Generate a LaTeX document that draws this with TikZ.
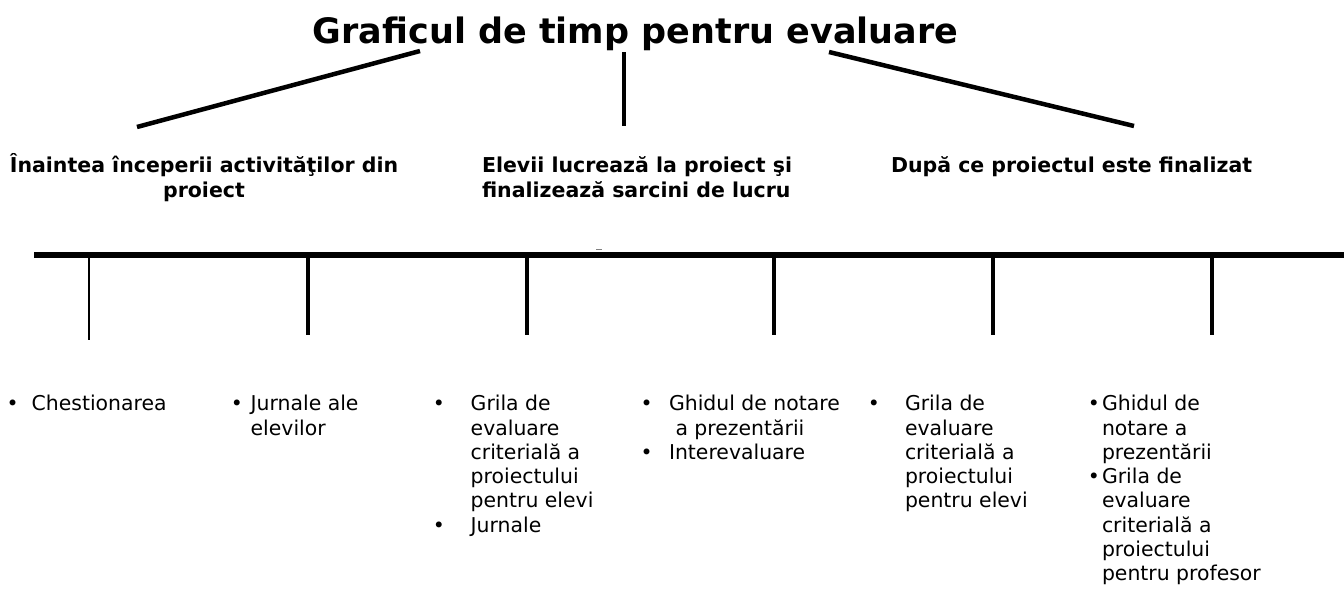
\documentclass[tikz,border=0pt]{standalone}
\usepackage{fontspec}
\setmainfont{DejaVu Sans}
\newcommand\colitems[1]{\begin{tabular}[t]{@{}l@{}}#1\end{tabular}}
\newcommand\colcenter[1]{\begin{tabular}[t]{@{}c@{}}#1\end{tabular}}
\begin{document}
\begin{tikzpicture}[x=1pt,y=-1pt,
  every node/.style={inner sep=0pt, outer sep=0pt},
  titlefont/.style={font=\bfseries\fontsize{35}{40}\selectfont},
  headfont/.style={font=\bfseries\fontsize{20.5}{24.3}\selectfont},
  listfont/.style={font=\fontsize{20.4}{24.3}\selectfont},
  bul/.style={listfont, anchor=base},
  items/.style={listfont, anchor=base west},
  branch/.style={line width=4.5pt},
  axis/.style={line width=6pt},
  tick/.style={line width=3.5pt},
]
\useasboundingbox (0,0) rectangle (1344,589);

% title
\node[titlefont, anchor=base] (title) at (635.5,43.3) {Graficul de timp pentru evaluare};

% branch lines
\coordinate (t1) at (420,51);
\coordinate (t2) at (624,52);
\coordinate (t3) at (829,52);
\coordinate (e1) at (137,127);
\coordinate (e2) at (624,126);
\coordinate (e3) at (1134,126);
\draw[branch] (t1) -- (e1);
\draw[branch] (t2) -- (e2);
\draw[branch] (t3) -- (e3);

% headings
\node[headfont, anchor=base] (h1) at (204,172.7) {\colcenter{Înaintea începerii activităţilor din\\ proiect}};
\node[headfont, anchor=base west] (h2) at (482,172.7) {\colitems{Elevii lucrează la proiect şi\\ finalizează sarcini de lucru}};
\node[headfont, anchor=base west] (h3) at (891,172.7) {După ce proiectul este finalizat};

% timeline
\coordinate (a0) at (34,255);
\coordinate (a1) at (1344,255);
\draw[axis] (a0) -- (a1);
\draw[gray, line width=1pt] (596,249.5) -- (602,249.5);

\foreach \n/\x/\b/\w in {1/89/340/1.6, 2/308/335/3.5, 3/527/335/3.5, 4/774/335/3.5, 5/993/335/3.5, 6/1212/335/3.5}{
  \coordinate (k\n) at (\x,255);
  \coordinate (kb\n) at (\x,\b);
  \draw[line width=\w pt] (k\n) -- (kb\n);
}

% lists
\node[bul] (b1) at (12.7,410.7) {•};
\node[items] (l1) at (31.7,410.7) {Chestionarea};

\node[bul] (b2) at (237,410.7) {•};
\node[items] (l2) at (250.7,410.7) {\colitems{Jurnale ale\\ elevilor}};

\node[bul] (b3a) at (439,410.7) {•};
\node[bul] (b3b) at (439,532.2) {•};
\node[items] (l3) at (470.7,410.7) {\colitems{Grila de\\ evaluare\\ criterială a\\ proiectului\\ pentru elevi\\ Jurnale}};

\node[bul] (b4a) at (646.7,410.7) {•};
\node[bul] (b4b) at (646.7,459.3) {•};
\node[items] (l4) at (669,410.7) {\colitems{Ghidul de notare\\ \hspace*{6.5pt}a prezentării\\ Interevaluare}};

\node[bul] (b5) at (874,410.7) {•};
\node[items] (l5) at (905,410.7) {\colitems{Grila de\\ evaluare\\ criterială a\\ proiectului\\ pentru elevi}};

\node[bul] (b6a) at (1094,410.7) {•};
\node[bul] (b6b) at (1094,483.6) {•};
\node[items] (l6) at (1102,410.7) {\colitems{Ghidul de\\ notare a\\ prezentării\\ Grila de\\ evaluare\\ criterială a\\ proiectului\\ pentru profesor}};
\end{tikzpicture}
\end{document}
